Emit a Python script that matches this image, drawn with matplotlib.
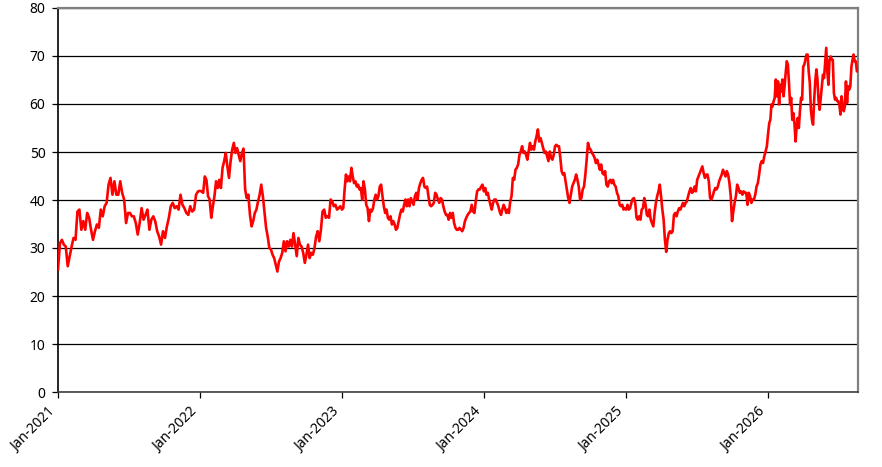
import numpy as np
import pandas as pd
import matplotlib
matplotlib.use('Agg')
import matplotlib.pyplot as plt
import matplotlib.dates as mdates

plt.rcParams['font.family'] = ['Noto Sans', 'DejaVu Sans']

# values, one list per calendar year
year_2021 = [25.5, 31.0, 31.7, 30.7, 30.3, 26.2, 28.3, 30.3, 32.1, 31.7, 37.6, 38.0, 33.8, 35.6, 33.8,
             37.3, 36.3, 33.8, 31.7, 33.5, 34.9, 34.2, 38.0, 36.6, 38.7, 39.4, 43.2, 44.6, 41.1, 43.9,
             41.1, 41.1, 43.9, 41.5, 40.1, 35.2, 37.3, 37.3, 36.6, 36.6, 35.2, 32.8, 35.2, 38.3, 35.9,
             36.9, 38.0, 33.8, 35.9, 36.6, 35.6, 33.5, 32.4, 30.7, 33.5, 32.1, 34.5, 36.3, 38.7, 39.4,
             38.3, 38.7, 38.0, 41.1, 39.0, 38.3, 37.3, 36.9, 38.7, 37.6, 38.0, 41.1, 41.8]
year_2022 = [41.9, 41.8, 41.5, 44.9, 44.2, 40.8, 40.1, 36.3, 38.7, 40.8, 43.9, 42.5, 44.2, 42.5, 46.7,
             48.1, 49.8, 47.0, 44.6, 48.1, 50.5, 51.9, 49.8, 50.8, 49.4, 48.1, 49.8, 50.7, 42.2, 40.4,
             41.1, 36.9, 34.5, 35.6, 37.3, 38.0, 39.7, 41.1, 43.2, 40.8, 37.6, 34.2, 32.4, 30.0, 29.7,
             28.6, 27.9, 26.5, 25.1, 27.2, 27.9, 29.0, 31.4, 29.3, 31.4, 30.3, 31.7, 30.3, 33.1, 30.7,
             28.3, 32.1, 30.7, 30.3, 29.0, 26.9, 28.6, 30.7, 27.9, 29.0, 28.6, 30.0, 32.4, 33.5, 31.4,
             33.8, 37.6, 38.0, 36.3, 36.6, 36.3, 40.1, 39.7, 38.7, 39.0, 38.0, 38.3, 38.7]
year_2023 = [38.0, 38.3, 42.2, 45.3, 43.9, 44.9, 43.9, 46.7, 44.9, 43.5, 43.9, 42.8, 43.2, 42.2, 42.5,
             40.1, 43.9, 42.2, 39.0, 38.3, 35.6, 38.0, 37.6, 38.3, 40.1, 41.1, 40.1, 40.8, 42.8, 43.2,
             40.8, 38.7, 37.3, 38.0, 36.3, 35.9, 36.6, 34.9, 35.6, 34.9, 33.8, 34.2, 35.6, 37.0, 38.0,
             37.6, 39.0, 40.1, 38.7, 40.1, 38.7, 40.4, 39.7, 39.0, 40.8, 41.5, 40.1, 42.5, 43.5, 44.2,
             44.6, 42.8, 42.5, 42.8, 40.8, 39.0, 38.7, 39.0, 39.4, 41.5, 41.1, 40.1, 39.4, 40.4, 40.1,
             38.7, 37.6, 36.9, 36.9, 35.9, 37.3, 36.3, 37.3, 35.2, 34.2, 33.8, 33.8, 34.2, 33.8, 33.5,
             34.2, 35.6, 36.3, 36.9, 37.3, 37.6, 39.0, 37.6, 37.3, 39.7, 41.8, 42.2, 42.2, 42.8, 43.2]
year_2024 = [41.8, 42.5, 41.1, 41.5, 40.1, 39.0, 38.0, 39.4, 40.1, 40.1, 39.4, 38.7, 37.6, 36.9, 38.0,
             39.0, 38.3, 37.3, 38.0, 37.3, 39.7, 40.8, 44.6, 44.2, 46.3, 46.7, 47.4, 49.4, 50.1, 51.2,
             49.8, 50.1, 49.4, 48.4, 50.1, 51.9, 50.5, 51.2, 50.5, 52.2, 53.3, 54.7, 52.2, 52.9, 51.9,
             50.8, 49.8, 50.1, 49.1, 48.1, 50.1, 48.8, 48.4, 49.4, 51.2, 51.5, 51.2, 51.2, 48.8, 46.0,
             45.3, 45.6, 43.9, 42.2, 40.4, 39.4, 41.1, 42.8, 43.5, 44.2, 45.3, 44.2, 42.8, 40.1, 40.4,
             42.2, 42.8, 45.3, 48.4, 51.9, 50.8, 50.5, 49.8, 49.4, 48.8, 47.7, 48.4, 47.4, 46.3, 47.4,
             45.6, 45.3, 46.0, 43.2, 42.8, 43.9, 44.2, 43.5, 44.2, 43.2, 42.8, 41.5, 40.8, 39.0, 38.7,
             39.0, 38.0, 38.3]
year_2025 = [38.0, 39.0, 38.0, 38.3, 39.4, 40.2, 40.4, 39.4, 36.3, 35.9, 36.6, 35.9, 38.0, 38.3, 40.4,
             39.0, 36.9, 36.6, 38.0, 35.9, 35.2, 34.5, 37.3, 39.4, 40.8, 41.8, 43.2, 40.8, 38.0, 35.9,
             31.7, 29.2, 31.7, 33.1, 33.5, 33.1, 33.5, 36.9, 37.3, 36.6, 37.6, 38.3, 38.0, 38.7, 39.4,
             38.7, 39.4, 39.7, 40.8, 41.8, 42.5, 41.5, 41.8, 42.8, 41.8, 44.2, 44.9, 45.6, 46.3, 47.0,
             45.6, 44.6, 45.3, 45.3, 43.9, 40.4, 40.1, 40.8, 41.8, 42.5, 42.2, 42.8, 43.9, 44.6, 45.3,
             46.3, 45.6, 44.9, 46.0, 45.3, 43.5, 40.8, 35.6, 37.6, 39.4, 40.8, 43.2, 42.5, 41.5, 41.8,
             41.1, 41.8, 41.5, 41.5, 39.0, 41.5, 40.8, 39.4, 40.1, 40.1, 41.1, 42.8, 43.5, 45.3, 47.4,
             48.1, 47.7, 49.1, 50.1, 51.2]
year_2026 = [54.0, 56.0, 56.7, 59.9, 59.5, 60.6, 61.3, 65.1, 61.6, 64.7, 59.9, 64.0, 62.6, 65.1, 61.6,
             63.7, 66.5, 68.9, 68.2, 64.4, 59.9, 61.3, 56.7, 58.1, 56.0, 52.2, 55.3, 57.1, 55.0, 58.5,
             61.3, 60.9, 67.8, 68.2, 69.2, 70.3, 70.3, 66.8, 64.4, 58.8, 56.7, 55.7, 60.9, 64.7, 67.2,
             65.1, 60.6, 58.8, 61.3, 64.0, 66.1, 65.4, 68.5, 71.7, 66.8, 64.0, 69.2, 69.9, 69.2, 69.2,
             62.3, 60.9, 61.3, 60.6, 60.6, 59.9, 57.8, 61.6, 59.5, 58.5, 59.5, 64.7, 60.2, 63.7, 63.0,
             63.7, 67.8, 69.2, 70.3, 68.9, 68.9, 66.8, 67.2]
last_date = pd.Timestamp('2026-08-20')

years = {2021: year_2021, 2022: year_2022, 2023: year_2023,
         2024: year_2024, 2025: year_2025, 2026: year_2026}

dates, values = [], []
for yr, vals in years.items():
    start = pd.Timestamp(f'{yr}-01-01')
    if yr == 2026:
        span = (last_date - start).days
        offs = np.linspace(0, span, len(vals))
    else:
        span = (pd.Timestamp(f'{yr + 1}-01-01') - start).days
        offs = np.linspace(0, span, len(vals), endpoint=False)
    dates.extend(start + pd.to_timedelta(offs, unit='D'))
    values.extend(vals)

fig = plt.figure(figsize=(8.82, 4.67), dpi=100)
ax = fig.add_axes([58 / 882, 1 - 392 / 467, 800 / 882, 384 / 467])

ax.plot(dates, values, color='#ff0000', lw=1.9, zorder=3)

ax.set_ylim(0, 80)
ax.set_yticks(range(0, 81, 10))
ax.set_xlim(pd.Timestamp('2021-01-01'), last_date)
ax.xaxis.set_major_locator(mdates.YearLocator())
ax.xaxis.set_major_formatter(mdates.DateFormatter('%b-%Y'))

ax.grid(axis='y', color='black', lw=0.9)
ax.set_axisbelow(True)

for s in ['top', 'right']:
    ax.spines[s].set_color('#808080')
    ax.spines[s].set_linewidth(1.6)
ax.spines['left'].set_color('black')
ax.spines['left'].set_linewidth(1.2)
ax.spines['bottom'].set_color('#404040')
ax.spines['bottom'].set_linewidth(1.2)

ax.tick_params(axis='both', direction='out', length=4, width=0.9, labelsize=10, pad=5)
plt.setp(ax.get_xticklabels(), rotation=45, ha='right')

fig.savefig('out.png', dpi=100)
